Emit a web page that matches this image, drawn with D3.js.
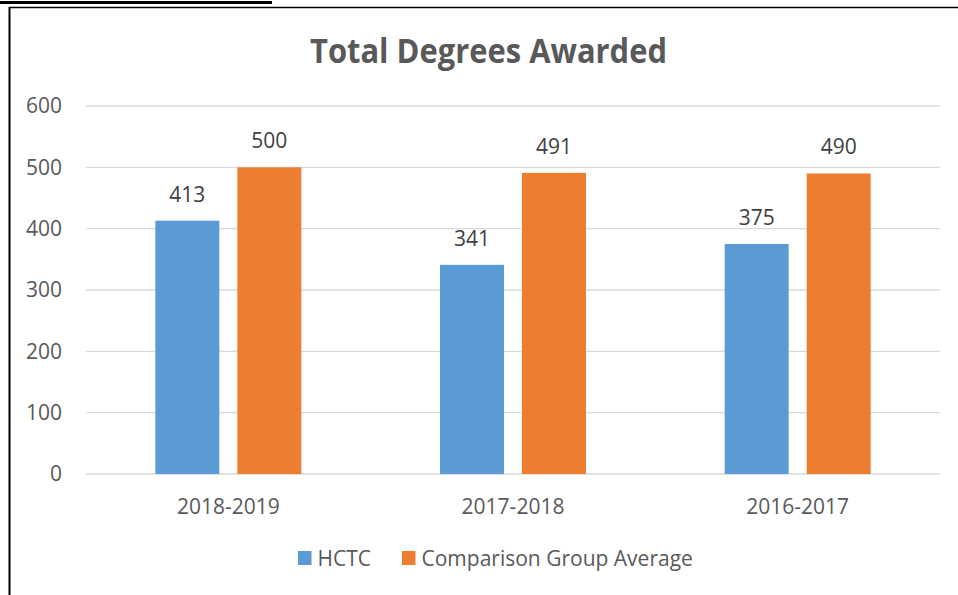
<!DOCTYPE html>
<html><head><meta charset="utf-8">
<script src="https://cdn.jsdelivr.net/npm/d3@7/dist/d3.min.js"></script>
<style>body{margin:0;background:#fff}svg{display:block}text{font-family:"Open Sans",sans-serif}</style>
</head><body>
<svg id="c" width="958" height="595"></svg>
<script>
const categories = ["2018-2019","2017-2018","2016-2017"];
const seriesNames = ["HCTC","Comparison Group Average"];
const hctc = [413,341,375];
const comparison = [500,491,490];
const yTicks = [0,100,200,300,400,500,600];
const colors = ["#5B9BD5","#ED7D31"];

(function(){
const svg = d3.select("#c");
// page decorations (frame)
svg.append("line").attr("x1",0).attr("x2",272).attr("y1",2.5).attr("y2",2.5).attr("stroke","#000").attr("stroke-width",3);
svg.append("line").attr("x1",9).attr("x2",958).attr("y1",7.5).attr("y2",7.5).attr("stroke","#000").attr("stroke-width",1.5);
svg.append("line").attr("x1",9.5).attr("x2",9.5).attr("y1",7).attr("y2",595).attr("stroke","#000").attr("stroke-width",2);

const pL = 86, pR = 940, pT = 106, pB = 474;
const x = d3.scaleBand().domain(categories).range([pL,pR]);
const y = d3.scaleLinear().domain([0,600]).range([pB,pT]);

// gridlines
svg.append("g").selectAll("line").data(yTicks).join("line")
  .attr("x1",pL).attr("x2",pR).attr("y1",d=>y(d)).attr("y2",d=>y(d))
  .attr("stroke","#d9d9d9").attr("stroke-width",1.3);

// y axis labels
const yAxis = d3.axisLeft(y).tickValues(yTicks).tickSize(0).tickPadding(24);
const ga = svg.append("g").attr("transform",`translate(${pL},0)`).call(yAxis);
ga.select(".domain").remove();
ga.selectAll("text").attr("font-size",21).attr("fill","#595959").attr("font-family","Open Sans");

// x axis labels
const xAxis = d3.axisBottom(x).tickSize(0).tickPadding(25);
const gx = svg.append("g").attr("transform",`translate(0,${pB})`).call(xAxis);
gx.select(".domain").remove();
gx.selectAll("text").attr("font-size",21).attr("fill","#595959").attr("font-family","Open Sans");

const barW = 64, innerGap = 18;
const offs = [-(innerGap/2+barW), innerGap/2];
const data = [hctc, comparison];
data.forEach((vals,si)=>{
  const g = svg.append("g");
  g.selectAll("rect").data(vals).join("rect")
    .attr("x",(d,i)=>x(categories[i])+x.bandwidth()/2+offs[si])
    .attr("width",barW)
    .attr("y",d=>y(d)).attr("height",d=>y(0)-y(d))
    .attr("fill",colors[si]);
  g.selectAll("text").data(vals).join("text")
    .attr("x",(d,i)=>x(categories[i])+x.bandwidth()/2+offs[si]+barW/2)
    .attr("y",d=>y(d)-19)
    .attr("text-anchor","middle").attr("font-size",21).attr("fill","#404040")
    .text(d=>d);
});

// title
svg.append("text").attr("x",488.5).attr("y",62.7).attr("text-anchor","middle")
  .attr("font-size",34).attr("font-weight","bold").attr("fill","#595959")
  .attr("textLength",357).attr("lengthAdjust","spacingAndGlyphs")
  .text("Total Degrees Awarded");

// legend
const legX = [298, 402];
seriesNames.forEach((n,i)=>{
  svg.append("rect").attr("x",legX[i]).attr("y",551).attr("width",13.5).attr("height",14).attr("fill",colors[i]);
  svg.append("text").attr("x",legX[i]+19.5).attr("y",565.5).attr("font-size",21).attr("fill","#595959").text(n);
});
})();
</script>
</body></html>
